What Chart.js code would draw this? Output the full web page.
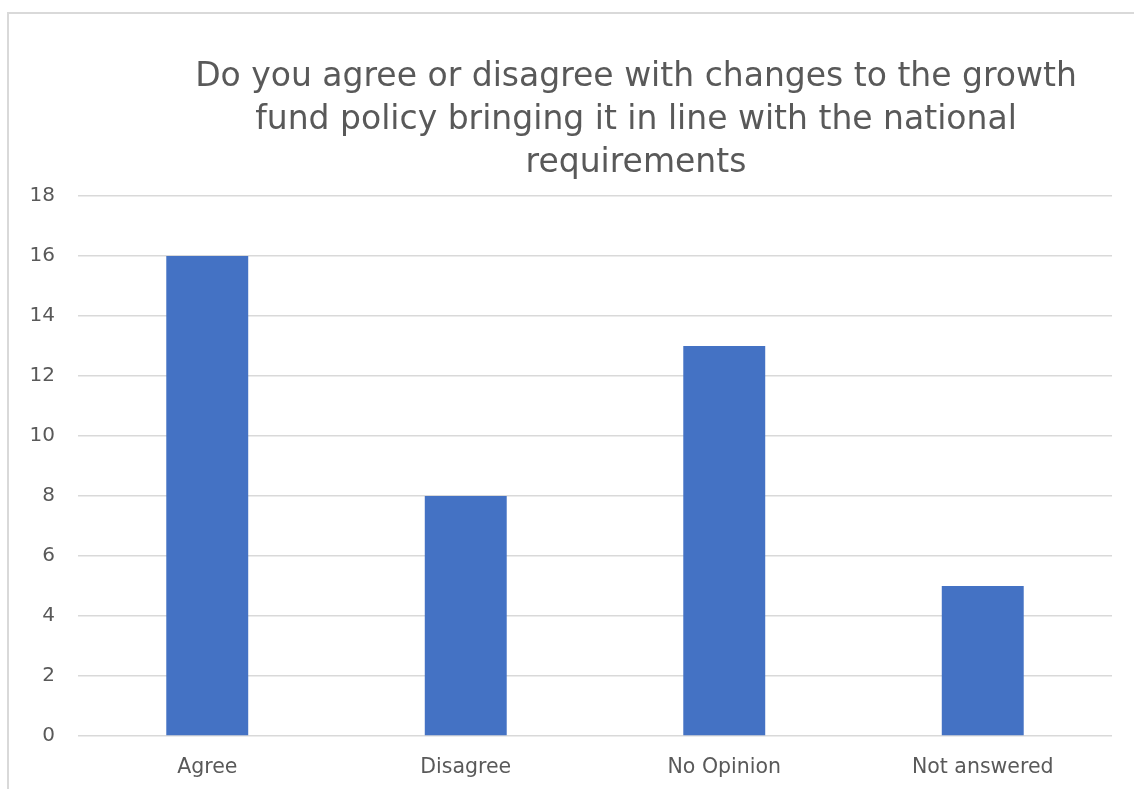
<!DOCTYPE html>
<html>
<head>
<meta charset="utf-8">
<script src="https://cdn.jsdelivr.net/npm/chart.js@4.4.0/dist/chart.umd.min.js"></script>
<style>
    html, body { margin: 0; padding: 0; background: #ffffff; }
    #wrap { position: relative; width: 1134px; height: 789px; overflow: hidden; }
    #frame {
        position: absolute; left: 7px; top: 12px; width: 1140px; height: 800px;
        border-left: 2px solid #d9d9d9; border-top: 2px solid #d9d9d9;
        box-sizing: border-box;
    }
    #surveyChart { position: absolute; left: 0; top: 0; }
</style>
</head>
<body>
<div id="wrap">
    <div id="frame"></div>
    <canvas id="surveyChart" width="1134" height="789"></canvas>
</div>
<script>
// 問卷結果資料
const answerLabels = ['Agree', 'Disagree', 'No Opinion', 'Not answered'];
const answerCounts = [16, 8, 13, 5];
const titleLines = [
    'Do you agree or disagree with changes to the growth',
    'fund policy bringing it in line with the national',
    'requirements'
];
const yTickMax = 18;
const yTickStep = 2;

const textGray = '#595959';
const gridGray = '#d9d9d9';
const barBlue = '#4472C4';
const fontFamily = '"DejaVu Sans", "Noto Sans", sans-serif';

// 自繪標題（置中於 636）
const titlePlugin = {
    id: 'surveyTitle',
    afterDraw(chart) {
        const ctx = chart.ctx;
        ctx.save();
        ctx.fillStyle = textGray;
        ctx.font = '33px ' + fontFamily;
        ctx.textAlign = 'center';
        ctx.textBaseline = 'alphabetic';
        titleLines.forEach((line, i) => {
            ctx.fillText(line, 636, 86 + i * 43);
        });
        ctx.restore();
    }
};

const ctx = document.getElementById('surveyChart').getContext('2d');
new Chart(ctx, {
    type: 'bar',
    data: {
        labels: answerLabels,
        datasets: [{
            data: answerCounts,
            backgroundColor: barBlue,
            borderWidth: 0,
            barPercentage: 0.317,
            categoryPercentage: 1.0
        }]
    },
    options: {
        responsive: false,
        animation: false,
        layout: { padding: { top: 196, right: 22, bottom: 0, left: 0 } },
        plugins: {
            legend: { display: false },
            tooltip: { enabled: false }
        },
        scales: {
            x: {
                grid: { display: false, drawTicks: false },
                border: { display: false },
                ticks: {
                    color: textGray,
                    font: { family: fontFamily, size: 20.5 },
                    padding: 19,
                    maxRotation: 0
                },
                afterFit(scale) { scale.height = 53; }
            },
            y: {
                min: 0,
                max: yTickMax,
                grid: { color: gridGray, lineWidth: 1.5, drawTicks: false },
                border: { display: false },
                ticks: {
                    stepSize: yTickStep,
                    color: textGray,
                    font: { family: fontFamily, size: 20 },
                    padding: 23
                },
                afterFit(scale) { scale.width = 78; }
            }
        }
    },
    plugins: [titlePlugin]
});
</script>
</body>
</html>
